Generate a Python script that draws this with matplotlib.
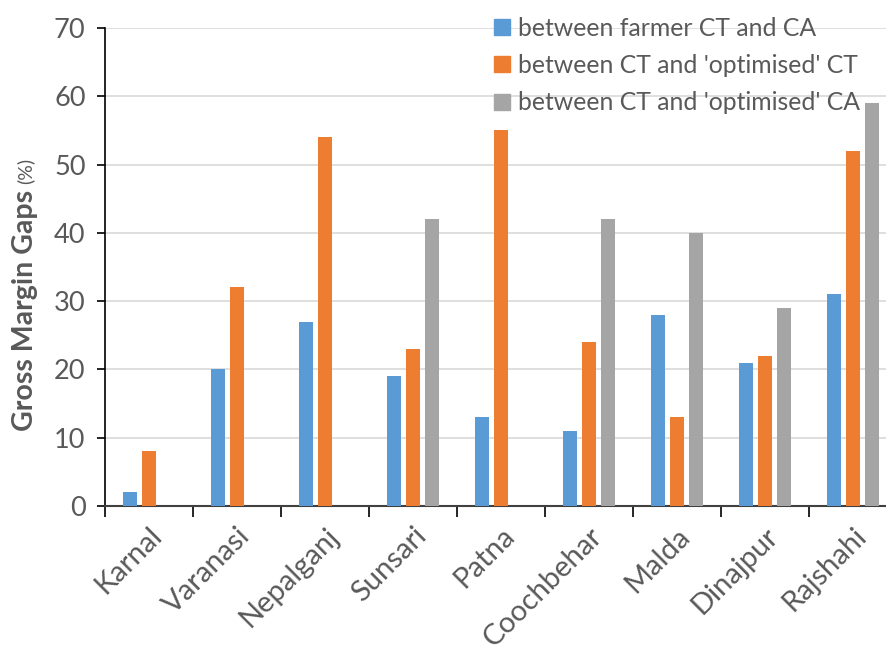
import numpy as np
import matplotlib.pyplot as plt
from matplotlib.patches import Patch

sites = ["Karnal", "Varanasi", "Nepalganj", "Sunsari", "Patna",
         "Coochbehar", "Malda", "Dinajpur", "Rajshahi"]
farmer_ct_ca = [2, 20, 27, 19, 13, 11, 28, 21, 31]
ct_opt_ct = [8, 32, 54, 23, 55, 24, 13, 22, 52]
ct_opt_ca = [np.nan, np.nan, np.nan, 42, np.nan, 42, 40, 29, 59]
labels = ["between farmer CT and CA", "between CT and 'optimised' CT",
          "between CT and 'optimised' CA"]
colors = ["#5B9BD5", "#ED7D31", "#A5A5A5"]

plt.rcParams['font.family'] = ['Lato', 'DejaVu Sans']
text_col = "#595959"

fig = plt.figure(figsize=(8.87, 6.49), dpi=100)
ax = fig.add_axes([105 / 887, 1 - 506 / 649, 792 / 887, 478 / 649])

x = np.arange(len(sites))
w = 0.17
off = 0.216
for i, vals in enumerate([farmer_ct_ca, ct_opt_ct, ct_opt_ca]):
    ax.bar(x + (i - 1) * off, vals, width=w, color=colors[i], zorder=3)

ax.set_xlim(-0.5, len(sites) - 0.5)
ax.set_ylim(0, 70)
ax.set_yticks(range(0, 71, 10))
ax.grid(axis='y', color='#d9d9d9', linewidth=1.2, zorder=0)

# category ticks sit between groups, labels on minor ticks
ax.set_xticks(np.arange(-0.5, len(sites), 1.0))
ax.set_xticklabels([])
ax.set_xticks(x, minor=True)
ax.set_xticklabels(sites, minor=True, rotation=45, ha='right',
                   rotation_mode='anchor', fontsize=21, color=text_col)
ax.tick_params(axis='x', which='minor', length=0, pad=12)
ax.tick_params(axis='x', which='major', length=8, width=1.2, direction='out')
ax.tick_params(axis='y', length=6, width=1.2, labelsize=19.5,
               labelcolor=text_col, pad=8)

for s in ['top', 'right']:
    ax.spines[s].set_visible(False)
ax.spines['left'].set_linewidth(1.2)
ax.spines['bottom'].set_linewidth(1.5)
ax.spines['bottom'].set_color('#404040')

fig.text(25 / 887, 1 - 310 / 649, "Gross Margin Gaps", rotation=90,
         fontsize=20.5, fontweight='bold', color=text_col, ha='center', va='center')
fig.text(25 / 887, 1 - 171 / 649, "(%)", rotation=90,
         fontsize=14, color=text_col, ha='center', va='center')

handles = [Patch(color=c) for c in colors]
leg = ax.legend(handles, labels, loc='upper left', bbox_to_anchor=(477 / 887, 1.001),
                bbox_transform=fig.transFigure, frameon=False, fontsize=17.8,
                handlelength=0.62, handleheight=0.62, handletextpad=0.35,
                labelspacing=0.58, borderaxespad=0.3)
for t in leg.get_texts():
    t.set_color(text_col)
leg.set_zorder(5)

fig.savefig("out.png", dpi=100)
